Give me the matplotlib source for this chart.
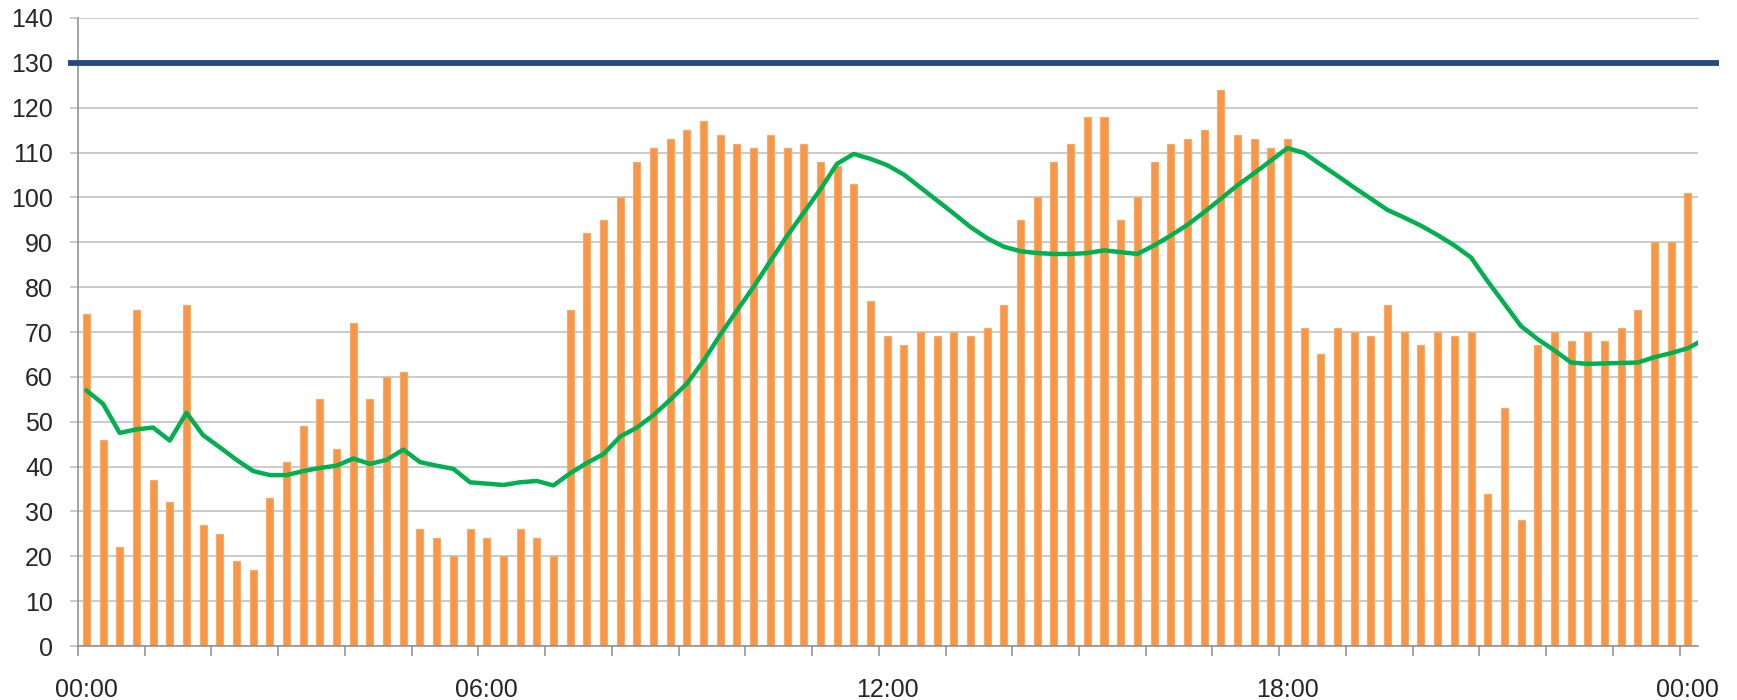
import numpy as np
import matplotlib
matplotlib.use('Agg')
import matplotlib.pyplot as plt
from matplotlib.ticker import FixedLocator

plt.rcParams['font.family'] = ['Liberation Sans', 'DejaVu Sans']

# 15 minute counts, 00:00 .. 00:00 (97 slots)
counts = [74, 46, 22, 75, 37, 32, 76, 27, 25, 19, 17, 33, 41, 49, 55, 44, 72, 55, 60, 61,
          26, 24, 20, 26, 24, 20, 26, 24, 20, 75, 92, 95, 100, 108, 111, 113, 115, 117, 114, 112,
          111, 114, 111, 112, 108, 107, 103, 77, 69, 67, 70, 69, 70, 69, 71, 76, 95, 100, 108, 112,
          118, 118, 95, 100, 108, 112, 113, 115, 124, 114, 113, 111, 113, 71, 65, 71, 70, 69, 76, 70,
          67, 70, 69, 70, 34, 53, 28, 67, 70, 68, 70, 68, 71, 75, 90, 90, 101]

# smoothed trend line (one extra point past midnight, clipped by the axes)
trend = [57, 54, 47.5, 48.3, 48.7, 45.8, 52, 47, 44.3, 41.5, 39, 38.1, 38.1, 39, 39.7, 40.2, 41.8, 40.6, 41.5, 43.8,
         41, 40.2, 39.5, 36.5, 36.2, 35.9, 36.5, 36.8, 35.8, 38.5, 40.8, 42.8, 46.7, 48.7, 51.5, 54.9, 58.5, 63.6, 69.4, 74.8,
         80.1, 85.8, 91.4, 96.6, 101.8, 107.5, 109.7, 108.6, 107.2, 105.1, 102.2, 99.3, 96.4, 93.4, 90.9, 89, 88, 87.6, 87.4, 87.4,
         87.6, 88.2, 87.8, 87.4, 89.3, 91.5, 93.9, 96.7, 99.7, 102.7, 105.4, 108.2, 111, 109.9, 107.3, 104.8, 102.2, 99.7, 97.2, 95.5,
         93.7, 91.6, 89.3, 86.6, 81.3, 76.3, 71.3, 68.4, 65.9, 63.2, 62.9, 63, 63.1, 63.2, 64.4, 65.3, 66.4, 68.4]

limit = 130
hour_labels = ['00:00', '06:00', '12:00', '18:00', '00:00']
label_pos = [0, 24, 48, 72, 96]

grid_c = '#BDBDBD'
axis_c = '#8C8C8C'
text_c = '#262626'

fig = plt.figure(figsize=(17.37, 7.0), dpi=100)
ax = fig.add_axes([0.0449, 0.0771, 0.9326, 0.8972])
ax.set_axisbelow(True)

x = np.arange(len(counts))
ax.bar(x, counts, width=0.42, color='#F79646', edgecolor='#F8AA6A', linewidth=0.8, zorder=2)
ax.plot(np.arange(len(trend)), trend, color='#00B050', linewidth=3.2,
        solid_joinstyle='round', solid_capstyle='round', zorder=3)

# limit line runs a little past the plot area on both sides
ax.plot([-0.006, 1.013], [limit, limit], transform=ax.get_yaxis_transform(),
        color='#254A7E', linewidth=4.2, clip_on=False, zorder=4, solid_capstyle='butt')

ax.set_xlim(-0.5, 96.6)
ax.set_ylim(0, 140)
ax.set_yticks(np.arange(0, 141, 10))
ax.yaxis.grid(color=grid_c, linewidth=1.1)

ax.set_xticks(label_pos)
ax.set_xticklabels(hour_labels)
ax.xaxis.set_minor_locator(FixedLocator(np.arange(-0.5, 97, 4)))
ax.tick_params(axis='x', which='major', length=0, pad=23, labelsize=18, labelcolor=text_c)
ax.tick_params(axis='x', which='minor', length=7, width=1.1, color=axis_c)
ax.tick_params(axis='y', length=6, width=1.1, color=grid_c, pad=12, labelsize=18, labelcolor=text_c)

for s in ['top', 'right']:
    ax.spines[s].set_visible(False)
for s in ['left', 'bottom']:
    ax.spines[s].set_color(axis_c)
    ax.spines[s].set_linewidth(1.1)

fig.savefig('out.png', dpi=100)
